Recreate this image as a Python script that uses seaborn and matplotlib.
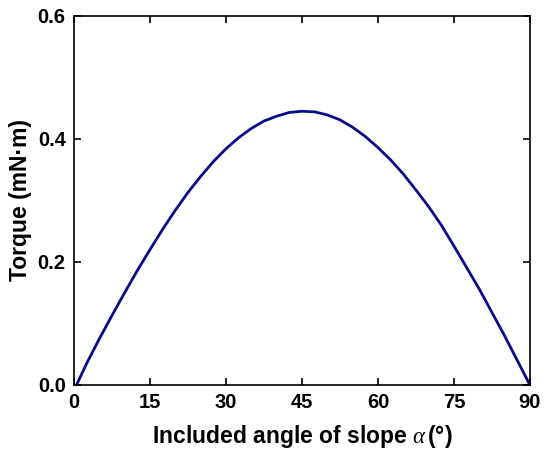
import numpy as np
import pandas as pd
import matplotlib
matplotlib.use('Agg')
import matplotlib.pyplot as plt
import seaborn as sns

# torque curve, every 2.5 degrees
angle_deg = [0.5, 2.5, 5, 7.5, 10, 12.5, 15, 17.5, 20, 22.5, 25, 27.5, 30, 32.5,
             35, 37.5, 40, 42.5, 45, 47.5, 50, 52.5, 55, 57.5, 60, 62.5, 65,
             67.5, 70, 72.5, 75, 77.5, 80, 82.5, 85, 87.5, 90]
torque = [0.000, 0.035, 0.075, 0.113, 0.150, 0.186, 0.220, 0.253, 0.284, 0.313,
          0.339, 0.363, 0.384, 0.402, 0.417, 0.429, 0.437, 0.443, 0.445, 0.444,
          0.439, 0.431, 0.419, 0.404, 0.386, 0.366, 0.343, 0.317, 0.290, 0.260,
          0.226, 0.191, 0.156, 0.118, 0.080, 0.040, 0.000]

x_ticks = [0, 15, 30, 45, 60, 75, 90]
y_ticks = [0.0, 0.2, 0.4, 0.6]

df = pd.DataFrame({'angle': angle_deg, 'torque': torque})

sns.set_theme(style='ticks')
plt.rcParams['font.family'] = ['Liberation Sans', 'DejaVu Sans']
plt.rcParams['mathtext.fontset'] = 'custom'
plt.rcParams['mathtext.it'] = 'Liberation Serif:italic'
plt.rcParams['text.color'] = 'black'
plt.rcParams['axes.labelcolor'] = 'black'

fig = plt.figure(figsize=(5.5, 4.54), dpi=100)
ax = fig.add_axes([0.1345, 0.152, 0.829, 0.813])

sns.lineplot(data=df, x='angle', y='torque', ax=ax, color='#0a0a8c',
             linewidth=2.0, estimator=None, sort=False)

ax.set_xlim(0, 90)
ax.set_ylim(0, 0.6)
ax.set_xticks(x_ticks)
ax.set_yticks(y_ticks)
ax.set_yticklabels(['{:.1f}'.format(v) for v in y_ticks])
ax.tick_params(direction='in', length=5, width=1.2, top=True, right=True,
               labelsize=14.5, pad=6, colors='black')
for lbl in ax.get_xticklabels() + ax.get_yticklabels():
    lbl.set_fontweight('bold')
for s in ax.spines.values():
    s.set_linewidth(1.2)
    s.set_color('black')

ax.set_xlabel(r'Included angle of slope $\it{\alpha}\,$(°)', fontsize=16.5,
              fontweight='bold', labelpad=8)
ax.set_ylabel('Torque (mN·m)', fontsize=16.5, fontweight='bold', labelpad=4)

fig.savefig('out.png', dpi=100)
